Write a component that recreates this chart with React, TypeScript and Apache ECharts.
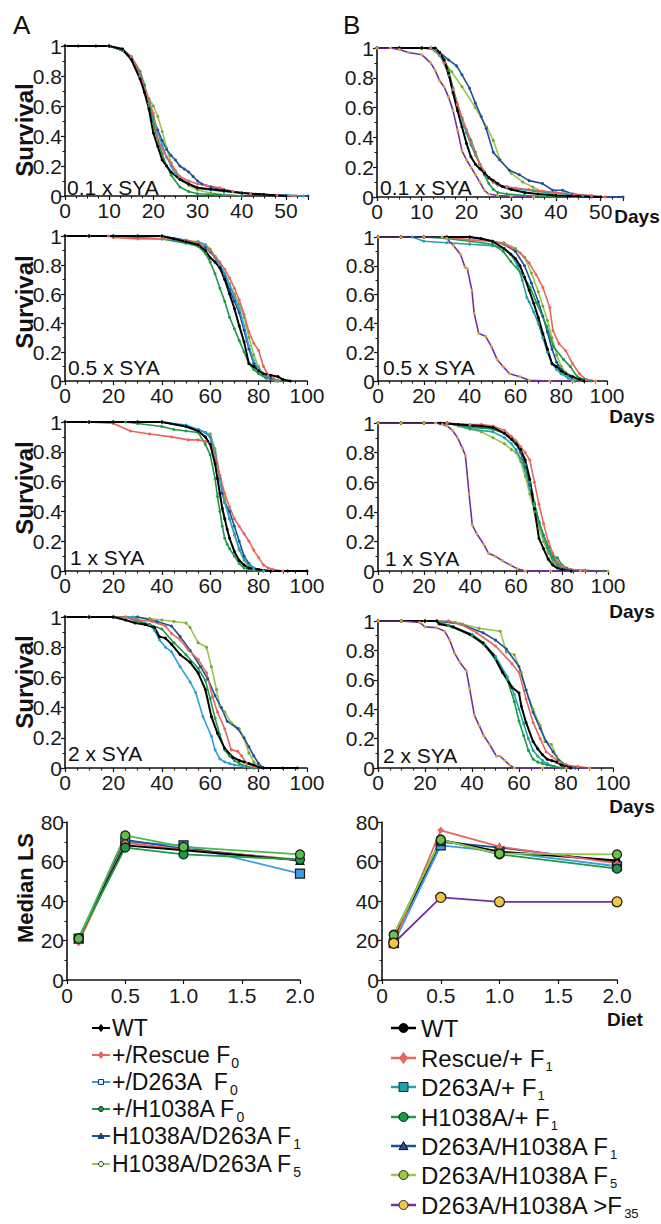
import React, { useEffect, useRef } from "react";
import * as echarts from "echarts";

const FONT = '"Liberation Sans", Arial, Helvetica, sans-serif';

const COL = {
  wt: "#000000",
  red: "#e8665e",
  cyan: "#2c9fd6",
  green: "#1d9a46",
  dblue: "#1e4f9b",
  lgreen: "#98c84b",
  teal: "#1fa3ad",
  purple: "#7131a1",
  yellow: "#f4c443",
};

// ---------- Row 1 (0.1 x SYA) : [day, survival] ----------
const a1WT = [[0,1],[3,1],[7,1],[10,1],[13,0.98],[15,0.91],[17,0.78],[18,0.69],[19,0.58],[20,0.42],[21,0.33],[22,0.24],[23,0.2],[24,0.16],[26,0.11],[28,0.08],[30,0.055],[33,0.045],[36,0.035],[40,0.02],[45,0.01],[50,0]];
const a1Red = [[0,1],[10,1],[13,0.98],[15,0.93],[17,0.82],[19,0.64],[20,0.55],[21,0.38],[22,0.31],[23,0.26],[24,0.22],[25,0.17],[26,0.13],[28,0.1],[30,0.08],[32,0.07],[35,0.055],[38,0.03],[42,0.015],[48,0.005],[52,0]];
const a1Cyan = [[0,1],[10,1],[13,0.97],[15,0.92],[17,0.8],[19,0.62],[20,0.52],[21,0.42],[22,0.34],[23,0.26],[24,0.2],[25,0.15],[26,0.12],[28,0.08],[30,0.05],[33,0.04],[36,0.03],[40,0.02],[45,0.01],[50,0.005],[54,0]];
const a1Green = [[0,1],[10,1],[13,0.97],[15,0.93],[17,0.83],[18,0.74],[19,0.6],[20,0.48],[21,0.37],[22,0.28],[23,0.2],[24,0.14],[26,0.06],[28,0.03],[30,0.015],[34,0.01],[40,0]];
const a1DBlue = [[0,1],[10,1],[13,0.97],[15,0.92],[17,0.8],[19,0.62],[20,0.52],[21,0.44],[22,0.37],[23,0.31],[24,0.27],[25,0.24],[26,0.2],[27,0.18],[28,0.16],[29,0.13],[30,0.1],[31,0.08],[33,0.06],[36,0.04],[40,0.02],[45,0.01],[50,0.005],[55,0]];
const a1LGreen = [[0,1],[10,1],[13,0.97],[15,0.92],[17,0.8],[19,0.65],[20,0.6],[21,0.53],[22,0.43],[23,0.32],[24,0.22],[25,0.16],[26,0.12],[28,0.07],[30,0.04],[33,0.02],[36,0.01],[40,0]];

const b1WT = [[0,1],[5,1],[10,1],[13,1],[14,0.97],[15,0.92],[16,0.83],[17,0.7],[18,0.58],[19,0.47],[20,0.36],[21,0.27],[22,0.22],[23,0.19],[24,0.16],[25,0.13],[26,0.11],[27,0.09],[28,0.07],[30,0.05],[33,0.03],[36,0.02],[40,0.01],[45,0.005],[50,0]];
const b1Red = [[0,1],[5,1],[10,1],[12,1],[13,0.99],[14,0.96],[15,0.9],[16,0.82],[17,0.72],[18,0.62],[19,0.53],[20,0.45],[21,0.37],[22,0.29],[23,0.22],[24,0.17],[25,0.13],[26,0.1],[27,0.08],[29,0.07],[31,0.06],[34,0.05],[37,0.04],[40,0.03],[44,0.02],[48,0.01],[51,0]];
const b1Teal = [[0,1],[5,1],[10,1],[12,1],[13,0.98],[14,0.95],[15,0.9],[16,0.82],[17,0.72],[18,0.62],[19,0.52],[20,0.43],[21,0.35],[22,0.28],[23,0.22],[24,0.17],[25,0.13],[26,0.1],[27,0.08],[29,0.06],[32,0.05],[35,0.04],[38,0.03],[42,0.02],[46,0.01],[50,0]];
const b1Green = [[0,1],[5,1],[10,1],[13,0.99],[14,0.97],[15,0.92],[16,0.85],[17,0.73],[18,0.62],[19,0.53],[20,0.45],[21,0.38],[22,0.3],[23,0.22],[24,0.15],[25,0.09],[26,0.05],[27,0.03],[29,0.02],[33,0.01],[40,0]];
const b1DBlue = [[0,1],[5,1],[10,1],[12,1],[14,0.97],[16,0.92],[17.8,0.88],[19,0.82],[20.7,0.73],[22,0.63],[23.3,0.54],[24.4,0.46],[26,0.3],[27.4,0.25],[29.6,0.18],[31.8,0.15],[34,0.11],[37,0.09],[39.3,0.045],[41.5,0.045],[43.7,0.02],[46,0.01],[48,0],[55,0]];
const b1LGreen = [[0,1],[5,1],[10,1],[12,1],[14,0.95],[15,0.91],[16.7,0.84],[19,0.74],[22,0.6],[24.5,0.47],[26,0.38],[27.5,0.25],[30,0.16],[32.6,0.1],[34.8,0.067],[37,0.034],[40,0.01],[45,0]];
const b1Purple = [[0,1],[3,1],[5,0.99],[7,0.97],[10,0.955],[12,0.9],[13,0.85],[14,0.78],[15,0.74],[16,0.67],[17,0.58],[18,0.45],[19,0.31],[20,0.25],[21,0.2],[22,0.15],[23,0.1],[24,0.045],[25,0.02],[27,0.01],[30,0.005],[35,0]];

// ---------- Row 2 (0.5 x SYA) ----------
const a2WT = [[0,1],[10,1],[20,1],[30,1],[40,1],[45,0.98],[50,0.96],[55,0.94],[58,0.9],[60,0.85],[62,0.82],[64,0.78],[66,0.7],[68,0.6],[70,0.5],[72,0.38],[74,0.27],[76,0.12],[78,0.1],[80,0.07],[82,0.05],[85,0.04],[88,0.03],[90,0.01],[93,0]];
const a2Red = [[0,1],[10,1],[18,1],[20,0.99],[30,0.98],[40,0.98],[50,0.97],[55,0.95],[60,0.9],[62,0.86],[64,0.82],[66,0.77],[68,0.71],[70,0.64],[72,0.56],[74,0.46],[76,0.34],[78,0.26],[80,0.21],[82,0.1],[84,0.04],[86,0.02],[88,0]];
const a2Cyan = [[0,1],[10,1],[20,1],[30,1],[40,1],[45,0.97],[50,0.96],[55,0.96],[58,0.94],[60,0.9],[62,0.85],[64,0.8],[66,0.74],[68,0.66],[70,0.58],[72,0.5],[74,0.38],[76,0.24],[78,0.14],[80,0.08],[82,0.04],[84,0.02],[87,0]];
const a2Green = [[0,1],[10,1],[20,1],[30,0.99],[40,0.98],[50,0.95],[55,0.93],[58,0.88],[60,0.82],[62,0.74],[64,0.64],[66,0.55],[68,0.44],[70,0.36],[72,0.28],[74,0.2],[76,0.12],[78,0.08],[80,0.05],[83,0.02],[86,0.01],[90,0]];
const a2DBlue = [[0,1],[10,1],[20,1],[30,1],[40,1],[50,0.97],[55,0.95],[58,0.92],[60,0.89],[62,0.85],[64,0.8],[66,0.72],[68,0.63],[70,0.55],[72,0.47],[74,0.35],[76,0.22],[78,0.12],[80,0.08],[82,0.04],[85,0.02],[88,0]];
const a2LGreen = [[0,1],[10,1],[20,1],[30,1],[40,1],[50,0.97],[55,0.96],[58,0.94],[60,0.91],[62,0.86],[64,0.8],[66,0.74],[68,0.67],[70,0.6],[72,0.53],[74,0.44],[76,0.3],[78,0.18],[80,0.1],[82,0.05],[85,0.02],[88,0]];

const b2WT = [[0,1],[10,1],[20,1],[30,1],[40,1],[45,0.99],[50,0.97],[55,0.92],[58,0.88],[60,0.85],[62,0.8],[64,0.72],[66,0.63],[68,0.54],[70,0.44],[72,0.33],[74,0.22],[76,0.12],[78,0.1],[80,0.07],[82,0.05],[85,0.03],[88,0.01],[90,0]];
const b2Red = [[0,1],[10,1],[20,1],[30,1],[40,0.98],[50,0.97],[55,0.95],[58,0.93],[62,0.89],[66,0.82],[69,0.74],[72,0.65],[75,0.51],[76.4,0.35],[79,0.26],[82,0.21],[85,0.12],[88,0.05],[91,0.01],[95,0]];
const b2Teal = [[0,1],[10,1],[15,1],[20,0.97],[30,0.96],[40,0.95],[50,0.94],[55,0.92],[58,0.88],[61,0.8],[63,0.7],[65,0.58],[66,0.55],[68,0.48],[70,0.4],[72,0.3],[74,0.2],[76,0.12],[78,0.08],[80,0.05],[83,0.02],[86,0]];
const b2Green = [[0,1],[10,1],[20,1],[30,0.99],[40,0.97],[50,0.95],[54.7,0.9],[58,0.83],[63.5,0.73],[66.4,0.65],[69.3,0.54],[73.7,0.38],[76.6,0.24],[81,0.15],[84,0.1],[87,0.03],[90,0.01],[93,0]];
const b2DBlue = [[0,1],[10,1],[20,1],[30,1],[40,1],[50,0.97],[55,0.95],[60,0.9],[64,0.8],[67,0.68],[70,0.55],[72,0.45],[74,0.34],[76,0.22],[78,0.13],[80,0.08],[83,0.04],[86,0]];
const b2LGreen = [[0,1],[10,1],[20,1],[30,1],[40,0.98],[50,0.97],[55,0.96],[60,0.92],[64,0.86],[67,0.75],[70,0.62],[72,0.52],[74,0.42],[76,0.3],[78,0.18],[80,0.1],[82,0.06],[85,0.03],[88,0]];
const b2Purple = [[0,1],[10,1],[20,1],[28,1],[30,0.99],[33,0.94],[36,0.88],[38,0.79],[39,0.78],[41,0.63],[42,0.47],[44,0.33],[47,0.31],[49.5,0.24],[52,0.15],[54.6,0.1],[57.5,0.05],[62,0.03],[66,0.005],[75,0],[85,0],[95,0]];

// ---------- Row 3 (1 x SYA) ----------
const a3WT = [[0,1],[10,1],[20,1],[30,1],[40,1],[50,0.97],[55,0.94],[58,0.9],[60,0.85],[62,0.72],[63,0.62],[64,0.52],[65,0.42],[66,0.35],[67,0.28],[68,0.22],[70,0.13],[72,0.07],[74,0.04],[76,0.02],[80,0.01],[85,0],[92,0],[100,0]];
const a3Red = [[0,1],[10,1],[20,0.99],[27,0.94],[35,0.92],[44,0.9],[51,0.88],[55,0.88],[58,0.87],[60,0.86],[62,0.78],[64,0.64],[66,0.52],[68,0.43],[70,0.35],[72,0.3],[74,0.25],[76,0.2],[78,0.14],[80,0.09],[82,0.04],[84,0.02],[86,0.01],[90,0]];
const a3Cyan = [[0,1],[10,1],[20,1],[30,1],[40,1],[50,0.98],[55,0.95],[58,0.93],[60,0.9],[62,0.8],[64,0.62],[66,0.46],[68,0.35],[70,0.25],[72,0.15],[74,0.08],[76,0.04],[78,0.02],[82,0]];
const a3Green = [[0,1],[10,1],[20,1],[25,1],[30,0.99],[40,0.97],[45,0.95],[50,0.94],[55,0.93],[58,0.85],[60,0.78],[62,0.62],[63,0.5],[64,0.4],[65,0.3],[66,0.22],[67,0.18],[68,0.15],[70,0.1],[72,0.05],[74,0.02],[76,0.01],[80,0]];
const a3DBlue = [[0,1],[10,1],[20,1],[30,1],[40,1],[50,0.97],[55,0.95],[58,0.93],[60,0.9],[62,0.78],[64,0.62],[65,0.52],[66,0.46],[68,0.4],[70,0.3],[72,0.2],[74,0.1],[76,0.05],[78,0.02],[82,0]];
const a3LGreen = [[0,1],[10,1],[20,1],[30,1],[40,1],[50,0.97],[55,0.95],[58,0.93],[60,0.92],[62,0.82],[64,0.64],[66,0.48],[68,0.35],[70,0.24],[72,0.14],[74,0.07],[76,0.03],[78,0.01],[82,0]];

const b3WT = [[0,1],[10,1],[20,1],[27,1],[35,0.99],[45,0.98],[50,0.97],[55,0.93],[58,0.89],[60,0.86],[62,0.82],[64,0.75],[66,0.62],[67,0.52],[68,0.42],[70,0.22],[72,0.15],[74,0.08],[76,0.04],[78,0.02],[80,0.01],[84,0]];
const b3Red = [[0,1],[10,1],[20,1],[30,1],[40,0.99],[45,0.99],[50,0.98],[55,0.95],[58,0.91],[60,0.88],[62,0.84],[64,0.8],[66,0.75],[68,0.6],[70,0.45],[72,0.32],[74,0.2],[76,0.12],[78,0.06],[80,0.03],[84,0.01],[90,0]];
const b3Teal = [[0,1],[10,1],[20,1],[30,1],[40,0.96],[50,0.94],[55,0.9],[58,0.86],[60,0.82],[62,0.76],[64,0.68],[66,0.56],[68,0.44],[70,0.33],[72,0.23],[74,0.14],[76,0.08],[78,0.04],[80,0.02],[84,0]];
const b3Green = [[0,1],[10,1],[20,1],[30,1],[40,0.97],[50,0.96],[55,0.93],[58,0.9],[60,0.87],[62,0.82],[64,0.72],[66,0.6],[68,0.46],[70,0.33],[72,0.24],[74,0.16],[76,0.1],[78,0.09],[80,0.04],[82,0.02],[84,0.01],[90,0.005],[98,0]];
const b3DBlue = [[0,1],[10,1],[20,1],[30,1],[40,0.98],[50,0.96],[55,0.93],[58,0.89],[60,0.86],[62,0.8],[64,0.7],[66,0.58],[68,0.45],[70,0.33],[72,0.24],[74,0.16],[76,0.09],[78,0.05],[80,0.02],[84,0]];
const b3LGreen = [[0,1],[10,1],[20,1],[30,1],[35,0.98],[40,0.96],[45,0.94],[50,0.9],[55,0.86],[58,0.82],[60,0.8],[62,0.74],[64,0.64],[66,0.52],[68,0.4],[70,0.29],[72,0.2],[74,0.12],[76,0.06],[78,0.03],[80,0.02],[84,0]];
const b3Purple = [[0,1],[10,1],[20,1],[25,1],[28,0.99],[30,0.98],[32.4,0.95],[34.6,0.9],[36.7,0.83],[38,0.78],[39.6,0.52],[41,0.31],[43,0.25],[46,0.18],[48,0.12],[51,0.1],[54,0.07],[57.6,0.04],[60.5,0.015],[64,0],[75,0],[88,0],[100,0]];

// ---------- Row 4 (2 x SYA) ----------
const a4WT = [[0,1],[10,1],[20,1],[25,0.98],[29,0.96],[33,0.95],[37,0.93],[39,0.87],[41.5,0.86],[44,0.82],[47.6,0.75],[51.7,0.7],[55,0.63],[58,0.52],[60.5,0.34],[63,0.23],[66,0.13],[69.4,0.07],[72,0.05],[74,0.04],[76,0.03],[78,0.02],[80,0.005],[82,0],[90,0],[96,0]];
const a4Red = [[0,1],[10,1],[20,1],[25,1],[30.6,0.98],[36,0.97],[41.5,0.94],[44,0.89],[47.6,0.85],[51,0.78],[55,0.72],[58.5,0.63],[61,0.47],[63,0.37],[66,0.26],[68.7,0.12],[71.4,0.11],[73,0.08],[75,0.03],[78,0.01],[80,0]];
const a4Cyan = [[0,1],[10,1],[20,1],[28,1],[30,0.98],[35,0.95],[37,0.91],[39,0.85],[41.5,0.8],[44,0.77],[47.6,0.67],[51.7,0.57],[54,0.5],[57,0.34],[60.5,0.21],[62,0.12],[64,0.06],[66,0.04],[68,0.03],[70,0.02],[74,0.01],[78,0]];
const a4Green = [[0,1],[10,1],[20,1],[25,1],[30,0.97],[35,0.95],[40,0.92],[45,0.83],[50,0.75],[55,0.66],[58,0.58],[60,0.46],[62,0.33],[64,0.22],[66,0.12],[68,0.08],[70,0.05],[72,0.03],[75,0.01],[78,0]];
const a4DBlue = [[0,1],[10,1],[20,1],[30,1],[38,0.97],[44,0.94],[47.6,0.87],[51.7,0.78],[56,0.67],[59,0.59],[62,0.48],[64.6,0.4],[67,0.31],[71.4,0.26],[74,0.2],[76,0.14],[78,0.08],[80,0.03],[82,0]];
const a4LGreen = [[0,1],[10,1],[20,1],[30,1],[35,0.99],[40,0.98],[45,0.97],[50,0.96],[51.7,0.93],[55,0.83],[58.5,0.8],[60.5,0.67],[62.6,0.52],[64,0.41],[66,0.37],[68.7,0.3],[72,0.26],[73.5,0.21],[76,0.1],[78,0.04],[80,0.02],[82,0]];

const b4WT = [[0,1],[10,1],[20,1],[25,1],[26,0.98],[32,0.96],[39,0.91],[44.7,0.85],[49,0.77],[53,0.65],[57,0.55],[60,0.51],[61,0.42],[63,0.31],[66,0.18],[68,0.13],[70,0.09],[72,0.06],[74,0.05],[76,0.04],[78,0.02],[80,0.01],[82,0]];
const b4Red = [[0,1],[10,1],[20,1],[30,1],[35,0.98],[42,0.92],[50,0.83],[57,0.71],[60,0.65],[63,0.47],[66,0.31],[69,0.2],[71.6,0.11],[74,0.08],[77,0.04],[80,0.02],[85,0.01],[90,0]];
const b4Teal = [[0,1],[10,1],[20,1],[25,1],[30,0.97],[40,0.91],[45,0.85],[50,0.76],[55,0.62],[58,0.5],[60,0.4],[62,0.3],[64,0.2],[66,0.12],[68,0.08],[70,0.05],[72,0.03],[75,0.01],[78,0]];
const b4Green = [[0,1],[10,1],[20,1],[25,1],[30,0.97],[40,0.9],[45,0.84],[50,0.74],[55,0.6],[58,0.45],[60,0.32],[62,0.22],[64,0.12],[66,0.06],[68,0.04],[70,0.03],[72,0.02],[75,0.01],[78,0]];
const b4DBlue = [[0,1],[10,1],[20,1],[25,1],[35,0.98],[44.7,0.92],[50,0.87],[54.6,0.81],[60,0.69],[63,0.53],[66,0.38],[69,0.27],[71.6,0.18],[74.5,0.11],[77,0.05],[80,0.02],[84,0]];
const b4LGreen = [[0,1],[10,1],[20,1],[30,1],[33,0.99],[36,0.98],[43,0.95],[52,0.93],[54.6,0.79],[58,0.77],[61,0.65],[63,0.53],[66,0.4],[69,0.29],[71,0.18],[73.8,0.16],[76,0.08],[78,0.04],[80,0.02],[84,0]];
const b4Purple = [[0,1],[10,1],[17.7,0.99],[20,0.96],[24.8,0.955],[28.4,0.93],[30.5,0.87],[32.6,0.78],[34.8,0.72],[37.6,0.66],[39,0.54],[41,0.36],[43,0.29],[45,0.22],[47.5,0.16],[50.4,0.08],[52,0.08],[54,0.05],[56,0.02],[58,0],[70,0],[80,0],[90,0]];

// ---------- Row 5 : median lifespan vs diet ----------
const DIET = [0.1, 0.5, 1.0, 2.0];
const mA_WT = [21, 68.2, 65.7, 60.6];
const mA_Red = [18.9, 69.5, 66, 61];
const mA_Cyan = [21, 70, 68.2, 53.9];
const mA_Green = [21, 67, 63.6, 61];
const mA_DBlue = [21, 71, 66.5, 60.6];
const mA_LGreen = [21, 73.2, 67.4, 63.6];

const mB_WT = [21, 71, 65, 60.5];
const mB_Red = [19, 75.8, 67.5, 59];
const mB_Teal = [18.6, 68.2, 65, 57.6];
const mB_Green = [23, 71, 63.6, 56.4];
const mB_DBlue = [21, 70, 67, 59.8];
const mB_LGreen = [22.7, 71, 64, 63.6];
const mB_Purple = [18.6, 41.8, 39.6, 39.6];

// ---------- legend labels ----------
const LEG_A = [
  ["WT", ""],
  ["+/Rescue F", "0"],
  ["+/D263A  F", "0"],
  ["+/H1038A F", "0"],
  ["H1038A/D263A F", "1"],
  ["H1038A/D263A F", "5"],
];
const LEG_B = [
  ["WT", ""],
  ["Rescue/+ F", "1"],
  ["D263A/+ F", "1"],
  ["H1038A/+ F", "1"],
  ["D263A/H1038A F", "1"],
  ["D263A/H1038A F", "5"],
  ["D263A/H1038A >F", "35"],
];
const DIET_LABELS = ["0.1 x SYA", "0.5 x SYA", "1 x SYA", "2 x SYA"];

// ---------- layout ----------
const GRIDS = [
  { left: 65, top: 46, width: 243, height: 150 },
  { left: 377, top: 48, width: 246, height: 149 },
  { left: 65, top: 236, width: 242, height: 145 },
  { left: 378, top: 237, width: 229, height: 144 },
  { left: 65, top: 422, width: 242, height: 149 },
  { left: 378, top: 423, width: 230, height: 148 },
  { left: 65, top: 617, width: 242, height: 151 },
  { left: 378, top: 621, width: 235, height: 147 },
  { left: 67, top: 822, width: 233, height: 158 },
  { left: 382, top: 822, width: 235, height: 158 },
];

const AX_LINE = { show: true, onZero: false, lineStyle: { color: "#111", width: 1.6 } };
const AX_TICK = { show: true, length: 4, lineStyle: { color: "#111", width: 1.2 } };

function xAx(gi: number, max: number, interval: number, fmt?: (v: number) => string) {
  return {
    type: "value", gridIndex: gi, min: 0, max, interval,
    axisLine: AX_LINE, axisTick: AX_TICK,
    minorTick: { show: gi < 8, splitNumber: 4, length: 2.5, lineStyle: { color: "#111", width: 1 } },
    splitLine: { show: false }, minorSplitLine: { show: false },
    axisLabel: { fontSize: 21, color: "#1a1a1a", fontFamily: FONT, margin: gi < 8 ? 4 : 5, formatter: fmt },
  };
}
function yAx(gi: number, max: number, interval: number) {
  return {
    type: "value", gridIndex: gi, min: 0, max, interval,
    axisLine: AX_LINE, axisTick: AX_TICK,
    minorTick: { show: true, splitNumber: 2, length: 2.5, lineStyle: { color: "#111", width: 1 } },
    splitLine: { show: false },
    axisLabel: { fontSize: 21, color: "#1a1a1a", fontFamily: FONT, margin: 3 },
  };
}

function curve(name: string, data: number[][], color: string, gi: number, dot?: string, width = 1.6) {
  return {
    type: "line", name, xAxisIndex: gi, yAxisIndex: gi, data,
    symbol: "circle", symbolSize: 3, showSymbol: true, showAllSymbol: true,
    lineStyle: { color, width }, itemStyle: { color: dot || color },
    silent: true, emphasis: { disabled: true },
  };
}

function med(name: string, ys: number[], color: string, gi: number, symbol: string, size: number, fill: string, border: boolean) {
  return {
    type: "line", name, xAxisIndex: gi, yAxisIndex: gi,
    data: DIET.map((x, i) => [x, ys[i]]),
    symbol, symbolSize: size, showSymbol: true,
    lineStyle: { color, width: 1.8 },
    itemStyle: { color: fill, borderColor: border ? "#1a1a1a" : fill, borderWidth: border ? 1.2 : 0 },
    silent: true, emphasis: { disabled: true },
  };
}

const DOT_LG = "#7f9f3c";
const DOT_PU = "#d9a640";

function survivalSeries() {
  const A = [
    [a1WT, a1Red, a1Cyan, a1Green, a1DBlue, a1LGreen],
    [a2WT, a2Red, a2Cyan, a2Green, a2DBlue, a2LGreen],
    [a3WT, a3Red, a3Cyan, a3Green, a3DBlue, a3LGreen],
    [a4WT, a4Red, a4Cyan, a4Green, a4DBlue, a4LGreen],
  ];
  const B = [
    [b1WT, b1Red, b1Teal, b1Green, b1DBlue, b1LGreen, b1Purple],
    [b2WT, b2Red, b2Teal, b2Green, b2DBlue, b2LGreen, b2Purple],
    [b3WT, b3Red, b3Teal, b3Green, b3DBlue, b3LGreen, b3Purple],
    [b4WT, b4Red, b4Teal, b4Green, b4DBlue, b4LGreen, b4Purple],
  ];
  const out: any[] = [];
  A.forEach((s, r) => {
    const gi = r * 2;
    out.push(curve("H1038A/D263A F5", s[5], COL.lgreen, gi, DOT_LG));
    out.push(curve("H1038A/D263A F1", s[4], COL.dblue, gi));
    out.push(curve("+/D263A F0", s[2], COL.cyan, gi));
    out.push(curve("+/H1038A F0", s[3], COL.green, gi));
    out.push(curve("+/Rescue F0", s[1], COL.red, gi));
    out.push(curve("WT", s[0], COL.wt, gi, undefined, 2));
  });
  B.forEach((s, r) => {
    const gi = r * 2 + 1;
    out.push(curve("D263A/H1038A F5", s[5], COL.lgreen, gi, DOT_LG));
    out.push(curve("D263A/H1038A F1", s[4], COL.dblue, gi));
    out.push(curve("D263A/+ F1", s[2], COL.teal, gi));
    out.push(curve("H1038A/+ F1", s[3], COL.green, gi));
    out.push(curve("Rescue/+ F1", s[1], COL.red, gi));
    out.push(curve("WT", s[0], COL.wt, gi, undefined, 2));
    out.push(curve("D263A/H1038A >F35", s[6], COL.purple, gi, DOT_PU));
  });
  return out;
}

function medianSeries() {
  return [
    med("+/D263A F0", mA_Cyan, "#3a9ee0", 8, "rect", 9, "#3a9ee0", true),
    med("H1038A/D263A F1", mA_DBlue, COL.dblue, 8, "triangle", 8, COL.dblue, true),
    med("+/Rescue F0", mA_Red, COL.red, 8, "diamond", 7, COL.red, false),
    med("WT", mA_WT, COL.wt, 8, "diamond", 6, "#000", false),
    med("+/H1038A F0", mA_Green, COL.green, 8, "circle", 9, COL.green, true),
    med("H1038A/D263A F5", mA_LGreen, "#4fb848", 8, "circle", 9, "#5cbd4a", true),

    med("D263A/+ F1", mB_Teal, "#3a9ee0", 9, "rect", 9, "#3a9ee0", true),
    med("D263A/H1038A F1", mB_DBlue, COL.dblue, 9, "triangle", 8, COL.dblue, true),
    med("WT", mB_WT, COL.wt, 9, "circle", 7, "#000", false),
    med("Rescue/+ F1", mB_Red, COL.red, 9, "diamond", 7, COL.red, false),
    med("H1038A/+ F1", mB_Green, COL.green, 9, "circle", 9, COL.green, true),
    med("D263A/H1038A F5", mB_LGreen, COL.lgreen, 9, "circle", 9, "#6cc24a", true),
    med("D263A/H1038A >F35", mB_Purple, COL.purple, 9, "circle", 10, COL.yellow, true),
  ];
}

function txt(text: string, x: number, y: number, size: number, opts: any = {}) {
  return {
    type: "text", x, y, rotation: opts.rotation || 0, silent: true,
    style: {
      text, fill: "#111",
      font: `${opts.bold ? "bold " : ""}${size}px ${FONT}`,
      align: opts.align || "left", verticalAlign: "middle",
      textAlign: opts.align || "left", textVerticalAlign: "middle",
    },
  };
}

function marker(kind: string, cx: number, cy: number, r: number, fill: string, stroke: string) {
  const style = { fill, stroke, lineWidth: 1 };
  if (kind === "circle") return { type: "circle", shape: { cx, cy, r }, style, silent: true };
  if (kind === "rect") return { type: "rect", shape: { x: cx - r, y: cy - r, width: 2 * r, height: 2 * r }, style, silent: true };
  if (kind === "triangle")
    return { type: "polygon", shape: { points: [[cx, cy - r], [cx + r, cy + r * 0.8], [cx - r, cy + r * 0.8]] }, style, silent: true };
  return { type: "polygon", shape: { points: [[cx, cy - r], [cx + r * 0.75, cy], [cx, cy + r], [cx - r * 0.75, cy]] }, style, silent: true };
}

let measureCtx: CanvasRenderingContext2D | null = null;
function measure(text: string, size: number) {
  if (!measureCtx) measureCtx = document.createElement("canvas").getContext("2d");
  if (!measureCtx) return text.length * size * 0.6;
  measureCtx.font = `${size}px ${FONT}`;
  return measureCtx.measureText(text).width;
}

function legendRow(label: string[], x0: number, x1: number, tx: number, cy: number, color: string, lw: number,
  mk: any[], fs: number, subFs: number, subOff: number) {
  const els: any[] = [
    { type: "line", shape: { x1: x0, y1: cy, x2: x1, y2: cy }, style: { stroke: color, lineWidth: lw }, silent: true },
    marker(mk[0], (x0 + x1) / 2, cy, mk[1], mk[2], mk[3]),
    txt(label[0], tx, cy, fs),
  ];
  if (label[1]) {
    const w = measure(label[0], fs);
    els.push(txt(label[1], tx + w + 1, cy + subOff, subFs));
  }
  return els;
}

function graphics() {
  const g: any[] = [];
  g.push(txt("A", 13, 25, 26));
  g.push(txt("B", 343, 25, 26));
  const survY = [130, 302, 488, 682];
  survY.forEach((y) => g.push(txt("Survival", 24, y, 24, { bold: true, rotation: Math.PI / 2, align: "center" })));
  g.push(txt("Median LS", 25, 888, 22, { bold: true, rotation: Math.PI / 2, align: "center" }));
  const sA = [[67, 187], [68, 367], [70, 557], [68, 753]];
  const sB = [[380, 187], [383, 367], [385, 558], [383, 755]];
  DIET_LABELS.forEach((t, i) => {
    g.push(txt(t, sA[i][0], sA[i][1], 21));
    g.push(txt(t, sB[i][0], sB[i][1], 21));
  });
  const daysY = [216, 416, 611, 806];
  const daysX = [637, 632, 632, 632];
  daysY.forEach((y, i) => g.push(txt("Days", daysX[i], y, 19, { bold: true, align: "center" })));
  g.push(txt("Diet", 625, 1019, 19, { bold: true, align: "center" }));

  const colA = [COL.wt, COL.red, COL.cyan, COL.green, COL.dblue, COL.lgreen];
  const mkA = [
    ["diamond", 3.5, "#000", "#000"],
    ["diamond", 3.5, COL.red, COL.red],
    ["rect", 2.5, "#d8eef8", "#1b3b5a"],
    ["circle", 2.5, COL.green, "#123"],
    ["triangle", 3, "#1e3f7a", "#1e3f7a"],
    ["circle", 2.5, "#eef6dc", "#333"],
  ];
  const yA = [1028, 1055, 1082, 1109, 1136, 1164];
  LEG_A.forEach((lab, i) => g.push(...legendRow(lab, 92, 110, 112, yA[i], colA[i], 2, mkA[i], 23, 14, 8)));

  const colB = [COL.wt, COL.red, COL.teal, COL.green, COL.dblue, COL.lgreen, COL.purple];
  const mkB = [
    ["circle", 4.5, "#000", "#000"],
    ["diamond", 5.5, COL.red, COL.red],
    ["rect", 4.5, COL.teal, "#1a2e33"],
    ["circle", 4.5, COL.green, "#111"],
    ["triangle", 4.5, "#2c4f8f", "#111"],
    ["circle", 4.5, COL.lgreen, "#222"],
    ["circle", 4.5, COL.yellow, "#222"],
  ];
  const yB = [1028, 1058, 1087, 1117, 1146, 1175, 1205];
  LEG_B.forEach((lab, i) => g.push(...legendRow(lab, 391, 416, 421, yB[i], colB[i], 2.5, mkB[i], 24, 13, 8)));
  return g;
}

export default function App() {
  const ref = useRef<HTMLDivElement>(null);
  useEffect(() => {
    if (!ref.current) return;
    const chart = echarts.init(ref.current, null, { renderer: "svg" });
    const xAxis: any[] = [];
    const yAxis: any[] = [];
    for (let r = 0; r < 4; r++) {
      const max = r === 0 ? 55 : 100;
      const iv = r === 0 ? 10 : 20;
      xAxis.push(xAx(r * 2, max, iv));
      xAxis.push(xAx(r * 2 + 1, max, iv));
      yAxis.push(yAx(r * 2, 1, 0.2));
      yAxis.push(yAx(r * 2 + 1, 1, 0.2));
    }
    const dietFmt = (v: number) => (v === 0 ? "0" : v.toFixed(1));
    xAxis.push(xAx(8, 2, 0.5, dietFmt));
    xAxis.push(xAx(9, 2, 0.5, dietFmt));
    yAxis.push(yAx(8, 80, 20));
    yAxis.push(yAx(9, 80, 20));

    chart.setOption({
      animation: false,
      backgroundColor: "#ffffff",
      textStyle: { fontFamily: FONT },
      grid: GRIDS.map((g) => ({ ...g, containLabel: false })),
      xAxis, yAxis,
      series: [...survivalSeries(), ...medianSeries()],
      graphic: graphics(),
    });
    return () => chart.dispose();
  }, []);
  return <div ref={ref} style={{ position: "absolute", left: 0, top: 0, width: 661, height: 1224 }} />;
}
